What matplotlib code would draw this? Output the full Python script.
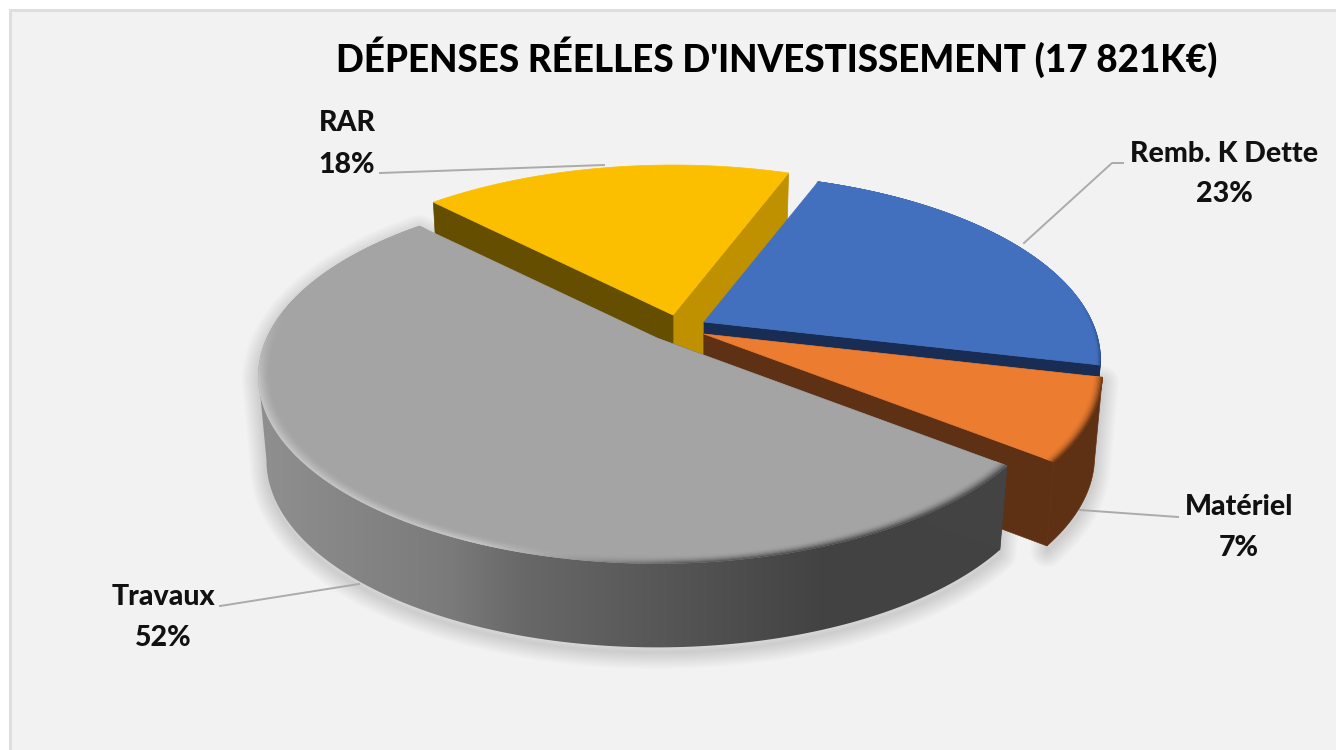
import numpy as np
import matplotlib
matplotlib.use("Agg")
import matplotlib.pyplot as plt
from matplotlib.collections import PolyCollection
from matplotlib.colors import to_rgb
from matplotlib.patches import Polygon, Rectangle

plt.rcParams['font.family'] = ['Lato', 'DejaVu Sans']

TITLE = "DÉPENSES RÉELLES D'INVESTISSEMENT (17 821K€)"
categories = ["Remb. K Dette", "Matériel", "Travaux", "RAR"]
values = [23, 7, 52, 18]

# pie geometry, in figure pixels
START_ANGLE = 20.5
RX, RY, PERSP = 394, 181, 0.207
DEPTH = 84
SHRINK = 0.98
tips = {"Remb. K Dette": (704, 322), "Matériel": (704, 334),
        "Travaux": (657, 338), "RAR": (673, 315)}
radii = {"Remb. K Dette": 0.985, "Matériel": 0.99, "Travaux": 0.99, "RAR": 1.0}
top_colors = {"Remb. K Dette": "#4270BF", "Matériel": "#EC7C30",
              "Travaux": "#A4A4A4", "RAR": "#FBBF00"}
wall_colors = {"Remb. K Dette": "#192D54", "Matériel": "#5F3114",
               "Travaux": "#434343", "RAR": "#664E00"}


def rim_point(theta, tip, r=1.0):
    t = np.radians(theta)
    u, v = r * np.sin(t), r * np.cos(t)
    den = 1 + PERSP * v
    return tip[0] + RX * u / den, tip[1] - RY * v / den


def lower(pts, tip):
    pts = np.asarray(pts, dtype=float)
    return np.column_stack([tip[0] + (pts[:, 0] - tip[0]) * SHRINK, pts[:, 1] + DEPTH])


def arc(a0, a1, tip, r=1.0, n=200):
    th = np.linspace(a0, a1, n)
    x, y = rim_point(th, tip, r)
    return np.column_stack([x, y])


def silhouette(rim, low, tip):
    # lower edge up to the leftmost point, then the top edge round to the tip
    k = np.argmin(rim[:, 0])
    return np.vstack([rim[:1], low[:k + 1], rim[k:], [tip]])


def grey_wall_color(x):
    level = np.interp(x, [265, 450, 520, 680, 820], [0.56, 0.48, 0.41, 0.33, 0.262])
    return (level, level, level)


def draw_bevel(ax, a0, a1, tip, radius, top, edge_fn, highlight, width, z):
    # soft band along the outer edge of a top face, stronger towards the viewer
    th = np.linspace(a0, a1, 260)
    layers = radius * np.linspace(1, 1 - width, 9)
    polys, cols = [], []
    top = np.array(to_rgb(top))
    for k in range(len(layers) - 1):
        t = (k + 0.5) / (len(layers) - 1)
        for i in range(len(th) - 1):
            x0, y0 = rim_point(th[i], tip, layers[k])
            x1, y1 = rim_point(th[i + 1], tip, layers[k])
            x2, y2 = rim_point(th[i + 1], tip, layers[k + 1])
            x3, y3 = rim_point(th[i], tip, layers[k + 1])
            v = np.cos(np.radians(th[i]))
            s = np.clip((0.15 - v) / 0.4, 0, 1)
            h = np.clip((680 - x0) / 200, 0, 1) if highlight else 0
            edge = np.array(edge_fn(x0))
            c = top + s * ((edge - top) * (1 - t) ** 2 * (1 - h)
                           + h * (0.79 - top) * (1 - t) ** 1.5)
            polys.append([(x0, y0), (x1, y1), (x2, y2), (x3, y3)])
            cols.append(np.clip(c, 0, 1))
    pc = PolyCollection(polys, facecolors=cols, edgecolors=cols, linewidths=0.5, zorder=z)
    ax.add_collection(pc)


fig = plt.figure(figsize=(13.36, 7.5), dpi=100)
fig.patch.set_facecolor("white")
ax = fig.add_axes([0, 0, 1, 1])
ax.set_xlim(0, 1336)
ax.set_ylim(750, 0)
ax.axis("off")

ax.add_patch(Rectangle((9.5, 10), 1400, 800, facecolor="#F2F2F2", edgecolor="#DEDEDE", lw=2.2, zorder=0))

# slice angles, clockwise from the top
edges = START_ANGLE + np.concatenate([[0], np.cumsum(values)]) * 3.6
spans = {c: (edges[i], edges[i + 1]) for i, c in enumerate(categories)}

# soft shadow under the two front slices
for name in ["Travaux", "Matériel"]:
    a0, a1 = spans[name]
    tip = tips[name]
    rim = arc(a0, a1, tip, radii[name])
    outline = silhouette(rim, lower(rim, tip), tip) + np.array([0, 5])
    for w in range(24, 0, -2):
        ax.add_patch(Polygon(outline, closed=True, facecolor="none", edgecolor="#000000",
                             alpha=0.011, lw=w, joinstyle="round", zorder=1))

# back to front
z = 2
for name in ["RAR", "Remb. K Dette", "Matériel", "Travaux"]:
    a0, a1 = spans[name]
    tip = tips[name]
    rim = arc(a0, a1, tip, radii[name])
    low = lower(rim, tip)
    tip_low = (tip[0], tip[1] + DEPTH)
    wall = wall_colors[name]

    if name == "RAR":
        ax.add_patch(Polygon([tip, rim[-1], low[-1], tip_low], facecolor="#BF9000", edgecolor="#BF9000", lw=0.5, zorder=z))
        ax.add_patch(Polygon([tip, rim[0], low[0], tip_low], facecolor=wall, edgecolor=wall, lw=0.5, zorder=z))
    elif name != "Travaux":
        ax.add_patch(Polygon([tip, rim[-1], low[-1], tip_low], facecolor=wall, edgecolor=wall, lw=0.5, zorder=z))
        ax.add_patch(Polygon(np.vstack([rim, low[::-1]]), facecolor=wall, edgecolor=wall, lw=0.5, zorder=z))
    else:
        # outer wall, lit from the left
        side = Polygon(silhouette(rim, low, tip), facecolor="none", edgecolor="none", zorder=z)
        ax.add_patch(side)
        xs = np.arange(240, 1040)
        grad = np.array([grey_wall_color(x) for x in xs])[None, :, :]
        img = ax.imshow(grad, extent=(240, 1040, 700, 300), aspect="auto", zorder=z, interpolation="bilinear")
        img.set_clip_path(side)
        ax.set_xlim(0, 1336)
        ax.set_ylim(750, 0)
        ax.add_patch(Polygon([tip, rim[0], low[0], tip_low], facecolor=wall, edgecolor=wall, lw=0.5, zorder=z))
    z += 1

    face = np.vstack([[tip], rim])
    ax.add_patch(Polygon(face, facecolor=top_colors[name], edgecolor=top_colors[name], lw=0.5, zorder=z))
    z += 1

    if name == "Travaux":
        draw_bevel(ax, a0, a1, tip, radii[name], top_colors[name], grey_wall_color, True, 0.03, z)
    elif name == "Matériel":
        draw_bevel(ax, a0, a1, tip, radii[name], top_colors[name], lambda x: to_rgb("#5F3114"), False, 0.025, z)
    elif name == "Remb. K Dette":
        draw_bevel(ax, a0, a1, tip, radii[name], top_colors[name], lambda x: to_rgb("#24406F"), False, 0.012, z)
    z += 1

# leader lines
leaders = [
    [(380, 173), (604, 165)],
    [(1024, 243), (1112, 163), (1123, 163)],
    [(1080, 510), (1178, 517)],
    [(220, 606), (359, 584)],
]
for line in leaders:
    xs, ys = zip(*line)
    ax.plot(xs, ys, color="#ABABAB", lw=1.4, zorder=z)

# data labels
label_pos = {"Remb. K Dette": (1224, 154, 194), "Matériel": (1239, 507, 548),
             "Travaux": (163, 597, 638), "RAR": (347, 123, 165)}
for name, val in zip(categories, values):
    x, y0, y1 = label_pos[name]
    ax.text(x, y0, name, fontsize=20.5, fontweight="black", color="#111111", ha="center", va="center", zorder=z)
    ax.text(x, y1, f"{val}%", fontsize=20.5, fontweight="black", color="#111111", ha="center", va="center", zorder=z)

ax.text(776.5, 57, TITLE, fontsize=26.5, fontweight="black", color="#000000", ha="center", va="center", zorder=z)

fig.savefig("out.png", dpi=100)
